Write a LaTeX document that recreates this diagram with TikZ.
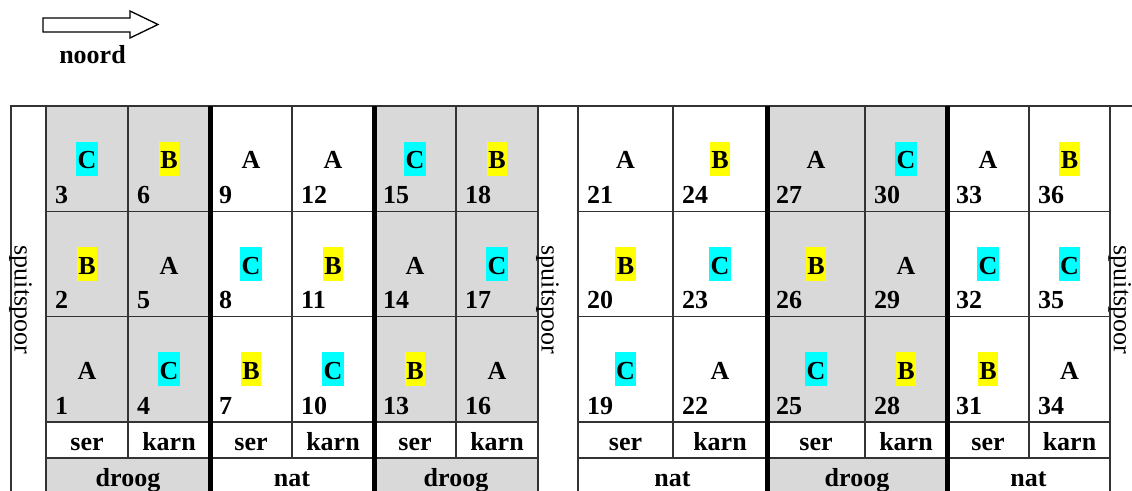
\documentclass[tikz,border=0pt]{standalone}
\usepackage{fontspec}
\setmainfont{Liberation Serif}
\usetikzlibrary{positioning}

\definecolor{droog}{gray}{0.85}
\definecolor{markB}{RGB}{255,255,0}
\definecolor{markC}{RGB}{0,255,255}

\begin{document}
\begin{tikzpicture}[x=1pt, y=-1pt, font=\fontsize{26}{30}\selectfont,
  grid/.style={line width=1.3pt, black!80},
  wall/.style={line width=5pt, black},
  cell/.style={font=\fontsize{26}{30}\selectfont\bfseries, inner xsep=1.5pt, inner ysep=0pt, text height=27pt, text depth=7pt},
  hlA/.style={}, hlB/.style={fill=markB}, hlC/.style={fill=markC},
  nr/.style={anchor=base west, inner sep=0pt, font=\fontsize{26}{30}\selectfont\bfseries},
  lab/.style={anchor=base, inner sep=0pt, font=\fontsize{26}{30}\selectfont\bfseries},
  spoor/.style={rotate=-90, anchor=south, inner sep=0pt}]

\useasboundingbox (0,0) rectangle (1132,490);
\clip (0,0) rectangle (1132,490);

% north arrow
\draw[line width=1.3pt] (43,18) -- (130,18) -- (130,11) -- (158,24.5) -- (130,38) -- (130,32) -- (43,32) -- cycle;
\node[lab] (noord) at (92.5,63) {noord};

% grey fields
\fill[droog] (46,106) rectangle (210,422) (46,458) rectangle (210,495);
\fill[droog] (374,106) rectangle (538,422) (374,458) rectangle (538,495);
\fill[droog] (767,106) rectangle (947,422) (767,458) rectangle (947,495);

% grid
\draw[grid] (10,106) -- (1132,106);
\foreach \y in {211.3,316.6,422,458}
  \draw[grid] (46,\y) -- (538,\y) (578,\y) -- (1110,\y);
\foreach \x in {11,46,538,578,1110}
  \draw[grid] (\x,106) -- (\x,495);
\foreach \x in {128,292,456,673,865,1029}
  \draw[grid] (\x,106) -- (\x,458);
\foreach \x in {210,374,767,947}
  \draw[wall] (\x,106) -- (\x,495);

% plots
\foreach \x/\w/\k/\ltop/\lmid/\lbot/\soort in {46/82/1/C/B/A/ser, 128/82/2/B/A/C/karn,
    210/82/3/A/C/B/ser, 292/82/4/A/B/C/karn, 374/82/5/C/A/B/ser, 456/82/6/B/C/A/karn,
    578/95/7/A/B/C/ser, 673/94/8/B/C/A/karn, 767/98/9/A/B/C/ser, 865/82/10/C/A/B/karn,
    947/82/11/A/C/B/ser, 1029/81/12/B/C/A/karn}{
  \foreach \r/\lt in {0/\ltop, 1/\lmid, 2/\lbot}{
    \pgfmathtruncatemacro\num{3*\k-\r}
    \node[cell, hl\lt] (l\num) at ({\x+\w/2},{158.7+105.3*\r}) {\lt};
    \node[nr] (n\num) at ({\x+9},{203.5+105.3*\r}) {\num};
  }
  \node[lab] (s\k) at ({\x+\w/2},450) {\soort};
}

% treatments
\node[lab] (d1) at (128,486) {droog};
\node[lab] (d2) at (292,486) {nat};
\node[lab] (d3) at (456,486) {droog};
\node[lab] (d4) at (672.5,486) {nat};
\node[lab] (d5) at (857,486) {droog};
\node[lab] (d6) at (1028.5,486) {nat};

% spray paths
\node[spoor] (sp1) at (9,300) {spuitspoor};
\node[spoor] (sp2) at (536,300) {spuitspoor};
\node[spoor] (sp3) at (1108,300) {spuitspoor};
\end{tikzpicture}
\end{document}
